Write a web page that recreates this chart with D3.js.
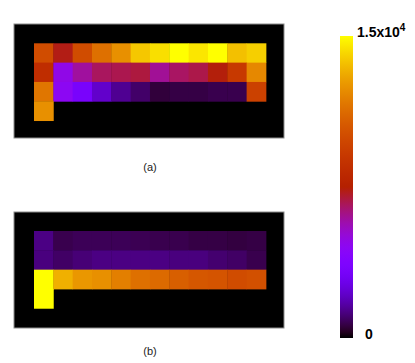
<!DOCTYPE html>
<html>
<head>
<meta charset="utf-8">
<script src="https://cdn.jsdelivr.net/npm/d3@7"></script>
<style>
  body { margin: 0; background: #fff; }
  svg { display: block; }
  text { font-family: "Liberation Sans", Arial, sans-serif; }
</style>
</head>
<body>
<svg id="chart" width="415" height="363"></svg>
<script>
// heat maps: 12 columns x 4 rows, null = empty (black)
const columns = d3.range(12);
const rows = d3.range(4);

const panelA = [
  [10000, 7300, 10000, 11400, 12400, 13800, 14350, 15000, 14500, 15000, 13650, 14000],
  [8400, 4800, 5900, 6600, 6750, 6900, 6000, 6550, 6800, 7400, 9100, 12150],
  [11600, 4500, 3400, 2200, 1450, 1000, 560, 650, 650, 740, 740, 9500],
  [12400, null, null, null, null, null, null, null, null, null, null, null]
];
const panelB = [
  [1300, 740, 830, 830, 830, 790, 740, 740, 650, 650, 610, 650],
  [1230, 970, 1150, 1290, 1290, 1290, 1290, 1230, 1230, 1070, 970, 740],
  [15000, 13250, 12600, 12400, 11900, 11400, 11200, 10800, 10500, 10350, 10000, 10200],
  [15000, null, null, null, null, null, null, null, null, null, null, null]
];
const panelLabels = ["(a)", "(b)"];
const vmin = 0, vmax = 15000;

// gnuplot style palette: r = sqrt(x), g = x^3, b = sin(2 pi x)
function gnuplot(t) {
  t = Math.max(0, Math.min(1, t));
  const r = Math.sqrt(t), g = t * t * t, b = Math.max(0, Math.sin(2 * Math.PI * t));
  return d3.rgb(r * 255, g * 255, b * 255).formatHex();
}
const color = d3.scaleSequential(gnuplot).domain([vmin, vmax]);

const svg = d3.select("#chart");

const panels = [
  { data: panelA, box: [14, 24, 270, 114], cellTop: 43.3, label: panelLabels[0], ly: 171 },
  { data: panelB, box: [14, 212, 270, 116], cellTop: 231, label: panelLabels[1], ly: 355 }
];

const cell = 19.33;
panels.forEach(p => {
  const g = svg.append("g");
  g.append("rect")
    .attr("x", p.box[0]).attr("y", p.box[1])
    .attr("width", p.box[2]).attr("height", p.box[3])
    .attr("fill", "#000")
    .attr("stroke", "#8c8c8c").attr("stroke-width", 1);

  const x = d3.scaleBand().domain(columns).range([34, 34 + cell * 12]);
  const y = d3.scaleBand().domain(rows).range([p.cellTop, p.cellTop + cell * 4]);

  const cells = [];
  p.data.forEach((row, i) => row.forEach((v, j) => { if (v != null) cells.push({ i, j, v }); }));

  g.selectAll("rect.cell").data(cells).join("rect")
    .attr("class", "cell")
    .attr("x", d => x(d.j)).attr("y", d => y(d.i))
    .attr("width", x.bandwidth() + 0.4).attr("height", y.bandwidth() + 0.4)
    .attr("fill", d => color(d.v));

  g.append("text")
    .attr("x", 150).attr("y", p.ly)
    .attr("text-anchor", "middle")
    .attr("font-size", 11).attr("fill", "#222")
    .text(p.label);
});

// colour bar
const cb = { x: 340, y: 36, w: 13, h: 302 };
const defs = svg.append("defs");
const grad = defs.append("linearGradient")
  .attr("id", "cbar").attr("x1", 0).attr("y1", 1).attr("x2", 0).attr("y2", 0);
grad.selectAll("stop").data(d3.range(0, 1.0001, 0.02)).join("stop")
  .attr("offset", d => d)
  .attr("stop-color", d => color(vmin + d * (vmax - vmin)));

svg.append("rect")
  .attr("x", cb.x).attr("y", cb.y).attr("width", cb.w).attr("height", cb.h)
  .attr("fill", "url(#cbar)");

const cScale = d3.scaleLinear().domain([vmin, vmax]).range([cb.y + cb.h, cb.y]);

const maxLabel = svg.append("text")
  .attr("x", 357).attr("y", cScale(vmax) + 1)
  .attr("font-size", 14).attr("font-weight", "bold").attr("fill", "#000");
maxLabel.append("tspan").text("1.5x10");
maxLabel.append("tspan").attr("dy", -6).attr("font-size", 10).text("4");

svg.append("text")
  .attr("x", 365).attr("y", cScale(vmin) + 1)
  .attr("font-size", 14).attr("font-weight", "bold").attr("fill", "#000")
  .text("0");
</script>
</body>
</html>
